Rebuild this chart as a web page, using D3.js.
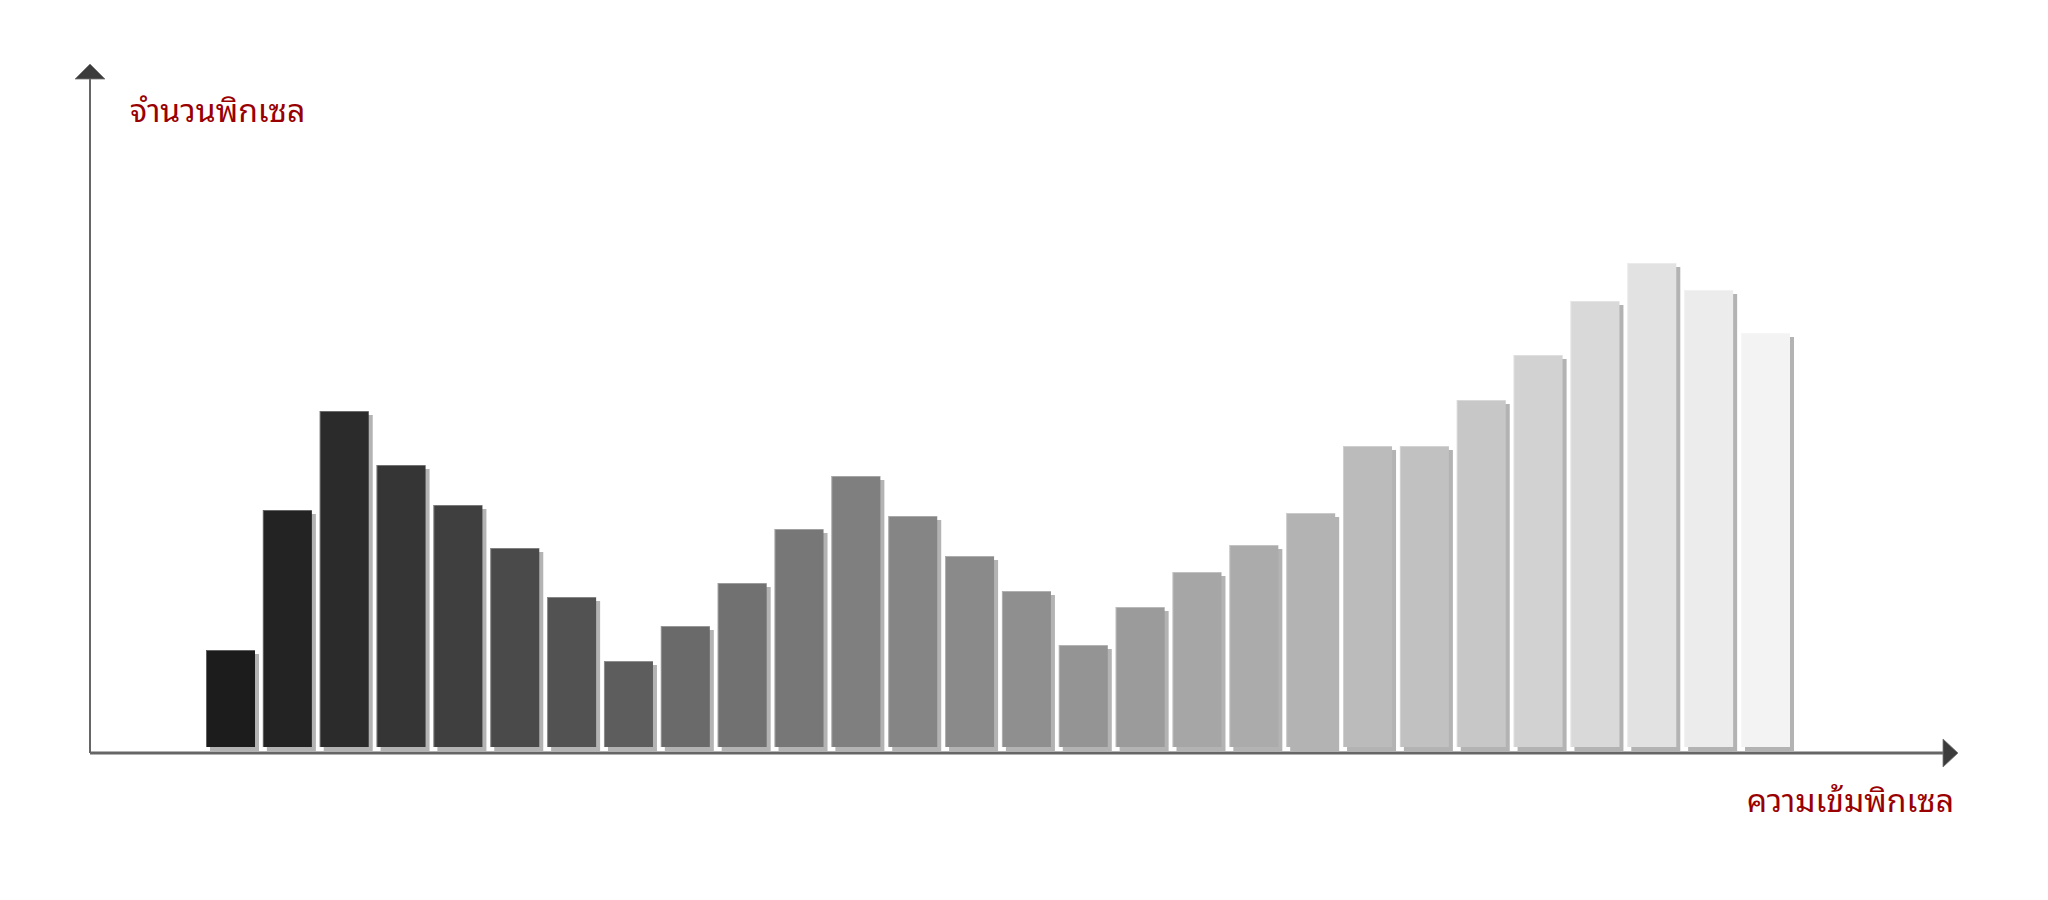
<!DOCTYPE html>
<html>
<head>
<meta charset="utf-8">
<script src="https://cdn.jsdelivr.net/npm/d3@7"></script>
<style>
  html, body { margin: 0; padding: 0; background: #ffffff; }
  svg { display: block; }
  text { font-family: "Noto Sans Thai Looped", "Loma", "Garuda", "Tlwg Typo", "Noto Sans Thai", "Noto Sans", sans-serif; }
</style>
</head>
<body>
<svg id="chart" width="2048" height="900"></svg>
<script>
// ---- data ----
const bins = d3.range(1, 29).map(i => "bin" + i);
const grayLevels = [0x1c, 0x23, 0x2b, 0x35, 0x3f, 0x4a, 0x52, 0x5d, 0x6a, 0x71, 0x77, 0x7f, 0x85, 0x8a,
                    0x8f, 0x94, 0x9b, 0xa6, 0xab, 0xb3, 0xbb, 0xc1, 0xc7, 0xd2, 0xd9, 0xe2, 0xec, 0xf3];
const pixelCounts = [97, 237, 336, 282, 242, 199, 150, 86, 121, 164, 218, 271, 231, 191,
                     156, 102, 140, 175, 202, 234, 301, 301, 347, 392, 446, 484, 457, 414];
const yLabel = "จำนวนพิกเซล";
const xLabel = "ความเข้มพิกเซล";

// ---- layout ----
const svg = d3.select("#chart");
const axisX0 = 90, axisY0 = 753;
const x = d3.scaleBand().domain(bins).range([206, 1790]).paddingInner(0.138).paddingOuter(0);
const y = d3.scaleLinear().domain([0, 500]).range([747, 247]);
const shadowOff = 4;

const data = bins.map((b, i) => ({ bin: b, value: pixelCounts[i], gray: grayLevels[i] }));

// shadows
svg.append("g").selectAll("rect").data(data).join("rect")
  .attr("x", d => x(d.bin) + shadowOff)
  .attr("y", d => y(d.value) + shadowOff)
  .attr("width", x.bandwidth())
  .attr("height", d => y(0) - y(d.value))
  .attr("fill", "#b3b3b3");

// bars
svg.append("g").selectAll("rect").data(data).join("rect")
  .attr("x", d => x(d.bin))
  .attr("y", d => y(d.value))
  .attr("width", x.bandwidth())
  .attr("height", d => y(0) - y(d.value))
  .attr("fill", d => d3.rgb(d.gray, d.gray, d.gray).formatHex());

// highlight edges (left & top)
svg.append("g").selectAll("path").data(data).join("path")
  .attr("d", d => {
    const x0 = x(d.bin) + 0.5, y0 = y(d.value) + 0.5;
    return `M${x0},${y(0) + 1}V${y0}H${x(d.bin) + x.bandwidth()}`;
  })
  .attr("fill", "none")
  .attr("stroke", "#ffffff")
  .attr("stroke-opacity", 0.3)
  .attr("stroke-width", 1);

// axes
svg.append("line")
  .attr("x1", axisX0).attr("y1", 78).attr("x2", axisX0).attr("y2", axisY0)
  .attr("stroke", "#666").attr("stroke-width", 2);
svg.append("line")
  .attr("x1", axisX0).attr("y1", axisY0).attr("x2", 1944).attr("y2", axisY0)
  .attr("stroke", "#666").attr("stroke-width", 3);

// arrow heads
svg.append("path")
  .attr("d", `M${axisX0 - 15},79 L${axisX0},64 L${axisX0 + 15},79 Z`)
  .attr("fill", "#3c3c3c").attr("stroke", "#777").attr("stroke-width", 0.8);
svg.append("path")
  .attr("d", `M1943,${axisY0 - 14} L1958,${axisY0} L1943,${axisY0 + 14} Z`)
  .attr("fill", "#3c3c3c").attr("stroke", "#777").attr("stroke-width", 0.8);

// labels
svg.append("text")
  .attr("x", 130).attr("y", 122)
  .attr("fill", "#990000")
  .attr("font-size", 32)
  .attr("font-weight", 400)
  .text(yLabel);
svg.append("text")
  .attr("x", 1954).attr("y", 812)
  .attr("text-anchor", "end")
  .attr("fill", "#990000")
  .attr("font-size", 32)
  .attr("font-weight", 400)
  .text(xLabel);
</script>
</body>
</html>
